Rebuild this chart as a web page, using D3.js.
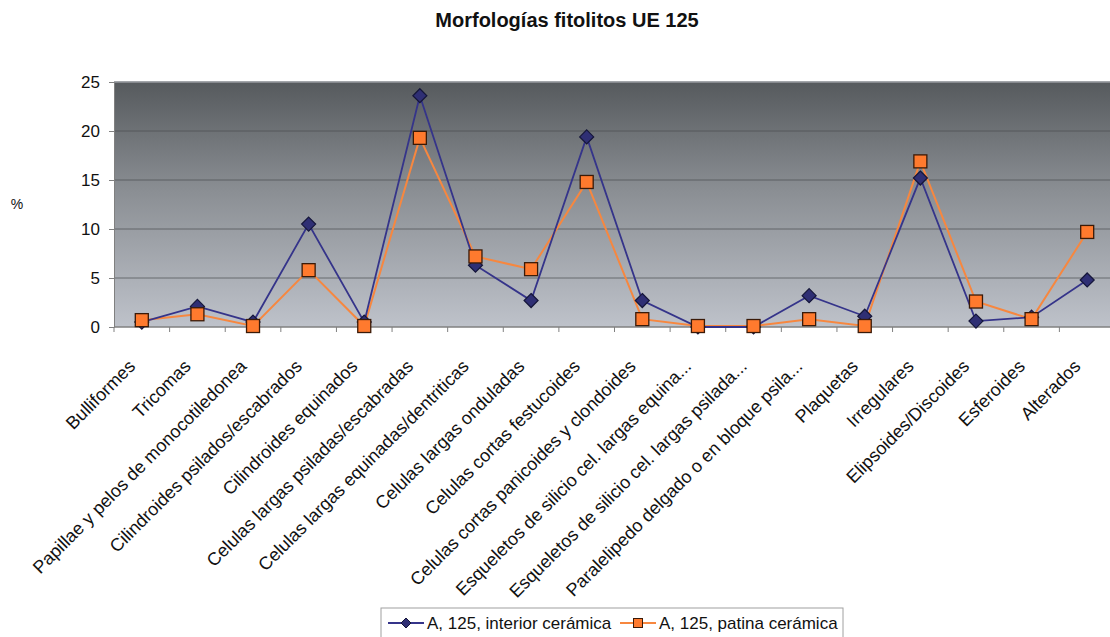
<!DOCTYPE html>
<html>
<head>
<meta charset="utf-8">
<script src="https://cdn.jsdelivr.net/npm/d3@7"></script>
<style>
  html, body { margin: 0; padding: 0; background: #fff; }
  svg { display: block; font-family: Arial, "Liberation Sans", sans-serif; }
</style>
</head>
<body>
<svg id="chart" width="1110" height="637"></svg>
<script>
// Phytolith morphologies, UE 125 (percentages)
const categories = [
  "Bulliformes",
  "Tricomas",
  "Papillae y pelos de monocotiledonea",
  "Cilindroides psilados/escabrados",
  "Cilindroides equinados",
  "Celulas largas psiladas/escabradas",
  "Celulas largas equinadas/dentriticas",
  "Celulas largas onduladas",
  "Celulas cortas festucoides",
  "Celulas cortas panicoides y clondoides",
  "Esqueletos de silicio cel. largas equina...",
  "Esqueletos de silicio cel. largas psilada...",
  "Paralelipedo delgado o en bloque psila...",
  "Plaquetas",
  "Irregulares",
  "Elipsoides/Discoides",
  "Esferoides",
  "Alterados"
];
const interiorValues = [0.5, 2.1, 0.5, 10.5, 0.5, 23.6, 6.3, 2.7, 19.4, 2.7, 0, 0, 3.2, 1.1, 15.2, 0.6, 1.0, 4.8];
const patinaValues   = [0.7, 1.3, 0.1, 5.8, 0.1, 19.3, 7.2, 5.9, 14.8, 0.8, 0.1, 0.1, 0.8, 0.1, 16.9, 2.6, 0.8, 9.7];
const seriesNames = ["A, 125, interior cerámica", "A, 125, patina cerámica"];
const yTicks = [0, 5, 10, 15, 20, 25];

const svg = d3.select("#chart");
const plot = { left: 114, right: 1115, top: 82, bottom: 327 };

const x = d3.scaleBand().domain(categories).range([plot.left, plot.right]).padding(0);
const y = d3.scaleLinear().domain([0, 25]).range([plot.bottom, plot.top]);
const cx = d => x(d) + x.bandwidth() / 2;

const navyLine = "#35348a", navyFill = "#2f2f74", navyEdge = "#15163a";
const orangeLine = "#f7873f", orangeFill = "#ff7a2e", orangeEdge = "#3a1a08";

// Plot area gradient
const defs = svg.append("defs");
const grad = defs.append("linearGradient").attr("id", "bg").attr("x1", 0).attr("y1", 0).attr("x2", 0).attr("y2", 1);
grad.append("stop").attr("offset", "0%").attr("stop-color", "#565a5d");
grad.append("stop").attr("offset", "45%").attr("stop-color", "#8b8f94");
grad.append("stop").attr("offset", "100%").attr("stop-color", "#bec2ca");

svg.append("rect")
  .attr("x", plot.left).attr("y", plot.top)
  .attr("width", plot.right - plot.left).attr("height", plot.bottom - plot.top)
  .attr("fill", "url(#bg)");

// Gridlines
svg.append("g").selectAll("line").data(yTicks.filter(t => t > 0)).join("line")
  .attr("x1", plot.left).attr("x2", plot.right)
  .attr("y1", d => y(d)).attr("y2", d => y(d))
  .attr("stroke", "#4a4d50").attr("stroke-width", 1).attr("stroke-opacity", 0.7);

svg.append("line")
  .attr("x1", plot.left).attr("x2", plot.right)
  .attr("y1", plot.top).attr("y2", plot.top)
  .attr("stroke", "#9a9da2").attr("stroke-width", 1.5);

// Y axis
const yAxis = svg.append("g")
  .attr("transform", `translate(${plot.left},0)`)
  .call(d3.axisLeft(y).tickValues(yTicks).tickSize(5).tickPadding(9));
yAxis.select(".domain").attr("stroke", "#808080");
yAxis.selectAll(".tick line").attr("stroke", "#808080");
yAxis.selectAll(".tick text").attr("font-size", 17).attr("fill", "#111")
  .attr("font-family", "Arial, 'Liberation Sans', sans-serif");

// X axis (ticks on category boundaries)
const xAxisG = svg.append("g").attr("transform", `translate(0,${plot.bottom})`);
xAxisG.append("line").attr("x1", plot.left).attr("x2", plot.right)
  .attr("stroke", "#808080").attr("stroke-width", 1.5);
xAxisG.selectAll("line.tk").data(categories).join("line").attr("class", "tk")
  .attr("x1", d => x(d)).attr("x2", d => x(d)).attr("y1", 0).attr("y2", 5)
  .attr("stroke", "#808080");
xAxisG.selectAll("text").data(categories).join("text")
  .attr("transform", d => `translate(${cx(d) - 10},${36}) rotate(-45)`)
  .attr("text-anchor", "end")
  .attr("dy", "0.35em")
  .attr("font-size", 18).attr("fill", "#111")
  .text(d => d);

// Y label
svg.append("text").attr("x", 17).attr("y", 209).attr("text-anchor", "middle")
  .attr("font-size", 14).attr("fill", "#111").text("%");

// Title
svg.append("text").attr("x", 567).attr("y", 27).attr("text-anchor", "middle")
  .attr("font-size", 20).attr("font-weight", "bold").attr("fill", "#111")
  .text("Morfologías fitolitos UE 125");

// Lines
const line = d3.line().x((d, i) => cx(categories[i])).y(d => y(d));

svg.append("path").datum(patinaValues).attr("d", line)
  .attr("fill", "none").attr("stroke", orangeLine).attr("stroke-width", 2);
svg.append("path").datum(interiorValues).attr("d", line)
  .attr("fill", "none").attr("stroke", navyLine).attr("stroke-width", 1.8);

function diamondPath(s) {
  return `M0,${-s}L${s},0L0,${s}L${-s},0Z`;
}
svg.append("g").selectAll("path").data(interiorValues).join("path")
  .attr("transform", (d, i) => `translate(${cx(categories[i])},${y(d)})`)
  .attr("d", diamondPath(7))
  .attr("fill", navyFill).attr("stroke", navyEdge).attr("stroke-width", 1.2);

svg.append("g").selectAll("rect").data(patinaValues).join("rect")
  .attr("x", (d, i) => cx(categories[i]) - 6.5).attr("y", d => y(d) - 6.5)
  .attr("width", 13).attr("height", 13)
  .attr("fill", orangeFill).attr("stroke", orangeEdge).attr("stroke-width", 1.3);

// Legend
const lg = svg.append("g").attr("transform", "translate(381,608)");
lg.append("rect").attr("x", 0).attr("y", 0).attr("width", 462).attr("height", 40)
  .attr("fill", "#fff").attr("stroke", "#a0a0a0");
const items = [
  { name: seriesNames[0], x: 7, type: "d" },
  { name: seriesNames[1], x: 239, type: "s" }
];
items.forEach(it => {
  const g = lg.append("g").attr("transform", `translate(${it.x},15)`);
  g.append("line").attr("x1", 0).attr("x2", 36).attr("y1", 0).attr("y2", 0)
    .attr("stroke", it.type === "d" ? navyLine : orangeLine).attr("stroke-width", 2);
  if (it.type === "d") {
    g.append("path").attr("transform", "translate(18,0)").attr("d", diamondPath(5))
      .attr("fill", navyFill).attr("stroke", navyEdge);
  } else {
    g.append("rect").attr("x", 13.5).attr("y", -4.5).attr("width", 9).attr("height", 9)
      .attr("fill", orangeFill).attr("stroke", orangeEdge);
  }
  g.append("text").attr("x", 39).attr("y", 6).attr("font-size", 17).attr("fill", "#111").text(it.name);
});
</script>
</body>
</html>
